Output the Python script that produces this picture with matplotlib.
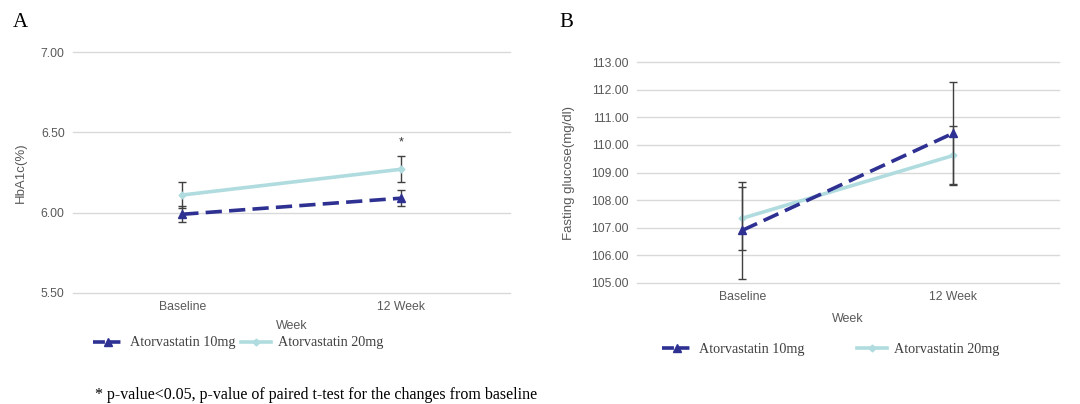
import matplotlib
matplotlib.use("Agg")
import matplotlib.pyplot as plt
from matplotlib.lines import Line2D

weeks = ["Baseline", "12 Week"]

# panel A: HbA1c
hba1c_10 = [5.99, 6.09]
hba1c_10_err = [0.05, 0.05]
hba1c_20 = [6.11, 6.27]
hba1c_20_err = [0.08, 0.08]
hba1c_ticks = [5.50, 6.00, 6.50, 7.00]

# panel B: fasting glucose
glu_10 = [106.90, 110.43]
glu_10_err = [1.77, 1.85]
glu_20 = [107.34, 109.62]
glu_20_err = [1.15, 1.08]
glu_ticks = [105, 106, 107, 108, 109, 110, 111, 112, 113]

labels = ["Atorvastatin 10mg", "Atorvastatin 20mg"]

DARK = "#2E3192"
LIGHT = "#B0DCDF"
GRID = "#D9D9D9"
TXT = "#595959"
SANS = "Liberation Sans"
SERIF = "Liberation Serif"
DASH = (0, (4.5, 2.0))


def draw_panel(ax, y10, e10, y20, e20, ticks, ylabel, ypad, xpad):
    x = range(len(weeks))
    ax.errorbar(x, y20, yerr=e20, color=LIGHT, lw=2.6, marker="D", ms=3.5,
                ecolor="#404040", elinewidth=1, capsize=3, capthick=1, zorder=3)
    ax.errorbar(x, y10, yerr=e10, color=DARK, lw=2.6, ls=DASH, marker="^",
                ms=5.5, ecolor="#404040", elinewidth=1, capsize=3, capthick=1, zorder=4)
    ax.set_xlim(-0.5, 1.5)
    ax.set_ylim(ticks[0], ticks[-1])
    ax.set_yticks(ticks)
    ax.set_yticklabels([f"{t:.2f}" for t in ticks], fontsize=8.8, color=TXT, family=SANS)
    ax.set_xticks(list(x))
    ax.set_xticklabels(weeks, fontsize=8.8, color=TXT, family=SANS)
    ax.tick_params(length=0, pad=6)
    for s in ax.spines.values():
        s.set_visible(False)
    for t in ticks:
        ax.axhline(t, color=GRID, lw=1, zorder=0, clip_on=False)
    ax.set_xlabel("Week", fontsize=9, color=TXT, family=SANS, labelpad=xpad)
    ax.set_ylabel(ylabel, fontsize=9.5, color=TXT, family=SANS, labelpad=ypad)


fig = plt.figure(figsize=(10.8, 4.04), dpi=100)
axA = fig.add_axes([0.0676, 0.2748, 0.4046, 0.5964])
axB = fig.add_axes([0.5895, 0.3002, 0.3911, 0.5456])

draw_panel(axA, hba1c_10, hba1c_10_err, hba1c_20, hba1c_20_err, hba1c_ticks, "HbA1c(%)", 10, 5)
draw_panel(axB, glu_10, glu_10_err, glu_20, glu_20_err, glu_ticks, "Fasting glucose(mg/dl)", 11, 7)

axA.text(1, hba1c_20[1] + hba1c_20_err[1] + 0.09, "*", ha="center", va="center",
         fontsize=9, color="#333333", family=SANS)

handles = [
    Line2D([], [], color=DARK, lw=2.6, ls=(0, (3.3, 1.0)), marker="^", ms=5.5),
    Line2D([], [], color=LIGHT, lw=2.6, marker="D", ms=3.5),
]
fig.legend(handles, labels, loc="center left", bbox_to_anchor=(0.074, 0.151), ncol=2,
           frameon=False, prop={"family": SERIF, "size": 10.2}, handlelength=2.15,
           handletextpad=0.5, columnspacing=0.35, labelcolor="#404040")
fig.legend(handles, labels, loc="center left", bbox_to_anchor=(0.601, 0.136), ncol=2,
           frameon=False, prop={"family": SERIF, "size": 10.2}, handlelength=2.15,
           handletextpad=0.5, columnspacing=3.67, labelcolor="#404040")

fig.text(0.012, 0.945, "A", fontsize=15, family=SERIF, va="center")
fig.text(0.518, 0.945, "B", fontsize=15, family=SERIF, va="center")
fig.text(0.088, 0.022, "* p-value<0.05, p-value of paired t-test for the changes from baseline",
         fontsize=11.5, family=SERIF, va="center")

fig.savefig("out.png", dpi=100)
